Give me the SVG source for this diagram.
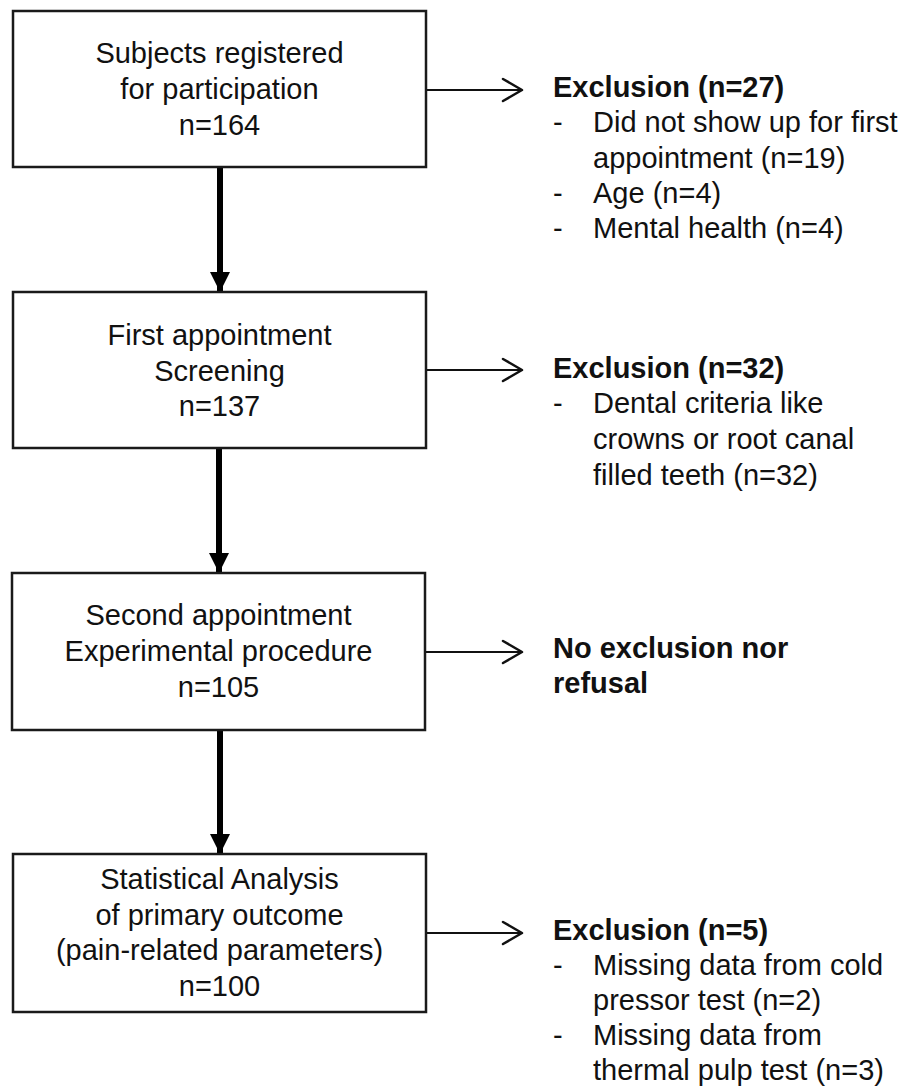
<svg xmlns="http://www.w3.org/2000/svg" width="907" height="1088" viewBox="0 0 907 1088">
<style>
.box{fill:#fff;stroke:#1a1a1a;stroke-width:2.5}
.t{font-family:"Liberation Sans",Arial,sans-serif;font-size:29px;fill:#111}
.c{text-anchor:middle}
.b{font-weight:bold}
.v{stroke:#000;stroke-width:6;fill:none}
.h{stroke:#111;stroke-width:2;fill:none}
.hd{stroke:#111;stroke-width:2.5;fill:none;stroke-linecap:round;stroke-linejoin:round}
</style>
<defs>
<marker id="tri" markerUnits="userSpaceOnUse" markerWidth="20" markerHeight="20" viewBox="0 0 20 20" refX="20" refY="10" orient="auto">
<path d="M0,0 L20,10 L0,20 Z" fill="#000"/>
</marker>
</defs>
<rect width="907" height="1088" fill="#fff"/>
<g id="connectors">
<line class="v" x1="220" y1="168" x2="220" y2="292" marker-end="url(#tri)"/>
<line class="v" x1="219" y1="449" x2="219" y2="573" marker-end="url(#tri)"/>
<line class="v" x1="220" y1="731" x2="220" y2="854" marker-end="url(#tri)"/>
<line class="h" x1="426" y1="90" x2="521" y2="90"/>
<polyline class="hd" points="503,79 522,90 503,101"/>
<line class="h" x1="426" y1="370" x2="521" y2="370"/>
<polyline class="hd" points="503,359 522,370 503,381"/>
<line class="h" x1="425" y1="652" x2="521" y2="652"/>
<polyline class="hd" points="503,641 522,652 503,663"/>
<line class="h" x1="426" y1="933" x2="521" y2="933"/>
<polyline class="hd" points="503,922 522,933 503,944"/>
</g>
<g id="node1">
<rect class="box" x="13" y="11" width="413" height="156"/>
<text class="t c" x="219.5" y="63">Subjects registered</text>
<text class="t c" x="219.5" y="99">for participation</text>
<text class="t c" x="219.5" y="135">n=164</text>
</g>
<g id="node2">
<rect class="box" x="13" y="292" width="413" height="156"/>
<text class="t c" x="219.5" y="345">First appointment</text>
<text class="t c" x="219.5" y="381">Screening</text>
<text class="t c" x="219.5" y="416">n=137</text>
</g>
<g id="node3">
<rect class="box" x="12" y="573" width="413" height="157"/>
<text class="t c" x="218.5" y="625">Second appointment</text>
<text class="t c" x="218.5" y="661">Experimental procedure</text>
<text class="t c" x="218.5" y="697">n=105</text>
</g>
<g id="node4">
<rect class="box" x="13" y="854" width="413" height="158"/>
<text class="t c" x="219.5" y="889">Statistical Analysis</text>
<text class="t c" x="219.5" y="925">of primary outcome</text>
<text class="t c" x="219.5" y="960">(pain-related parameters)</text>
<text class="t c" x="219.5" y="996">n=100</text>
</g>
<g id="excl1">
<text class="t b" x="553" y="97">Exclusion (n=27)</text>
<text class="t" x="553" y="132">-</text>
<text class="t" x="593" y="132">Did not show up for first</text>
<text class="t" x="593" y="168">appointment (n=19)</text>
<text class="t" x="553" y="203">-</text>
<text class="t" x="593" y="203">Age (n=4)</text>
<text class="t" x="553" y="238">-</text>
<text class="t" x="593" y="238">Mental health (n=4)</text>
</g>
<g id="excl2">
<text class="t b" x="553" y="378">Exclusion (n=32)</text>
<text class="t" x="553" y="413">-</text>
<text class="t" x="593" y="413">Dental criteria like</text>
<text class="t" x="593" y="449">crowns or root canal</text>
<text class="t" x="593" y="485">filled teeth (n=32)</text>
</g>
<g id="excl3">
<text class="t b" x="553" y="658">No exclusion nor</text>
<text class="t b" x="553" y="693">refusal</text>
</g>
<g id="excl4">
<text class="t b" x="553" y="940">Exclusion (n=5)</text>
<text class="t" x="553" y="975">-</text>
<text class="t" x="593" y="975">Missing data from cold</text>
<text class="t" x="593" y="1010">pressor test (n=2)</text>
<text class="t" x="553" y="1045">-</text>
<text class="t" x="593" y="1045">Missing data from</text>
<text class="t" x="593" y="1080">thermal pulp test (n=3)</text>
</g>
</svg>
